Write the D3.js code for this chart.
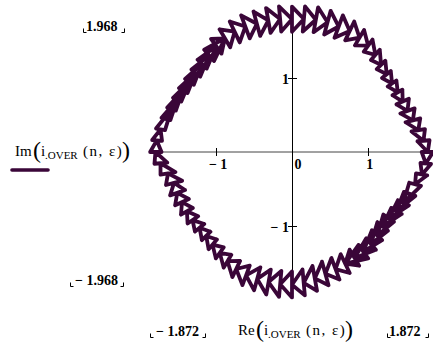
<!DOCTYPE html>
<html><head><meta charset="utf-8">
<script src="https://cdn.jsdelivr.net/npm/d3@7"></script>
<style>body{margin:0;background:#fff}svg{display:block}</style>
</head><body><svg id="c" width="433" height="345"></svg>
<script>
// axis limits and ticks
const xDomain = [-1.872, 1.872];
const yDomain = [-1.968, 1.968];
const xTicks = [-1, 0, 1];
const yTicks = [-1, 1];
// trace: [phase in degrees, magnitude] (two passes round the curve)
const lapA = [
[90,1.96],[90,1.62],[85,1.80],[85,1.97],[85,1.63],[80,1.81],[80,1.98],[80,1.64],[75,1.81],
[75,1.97],[75,1.64],[70,1.80],[70,1.96],[70,1.64],[65,1.80],[65,1.94],[65,1.66],[60,1.78],
[60,1.90],[60,1.66],[55,1.75],[55,1.85],[55,1.65],[50,1.71],[50,1.80],[50,1.62],[45,1.66],
[45,1.74],[45,1.58],[40,1.63],[40,1.70],[40,1.55],[35,1.61],[35,1.68],[35,1.54],[30,1.61],
[30,1.68],[30,1.53],[25,1.61],[25,1.70],[25,1.52],[20,1.62],[20,1.72],[20,1.52],[15,1.65],
[15,1.75],[15,1.55],[10,1.69],[10,1.78],[10,1.60],[5,1.74],[5,1.82],[5,1.66],[0,1.79],
[0,1.86],[0,1.71],[-5,1.77],[-5,1.84],[-5,1.70],[-10,1.74],[-10,1.81],[-10,1.66],[-15,1.68],
[-15,1.76],[-15,1.60],[-25,1.62],[-20,1.73],[-20,1.57],[-30,1.59],[-25,1.70],[-25,1.54],[-35,1.56],
[-30,1.67],[-30,1.51],[-40,1.56],[-35,1.64],[-35,1.47],[-45,1.59],[-40,1.65],[-40,1.47],[-50,1.62],
[-45,1.68],[-45,1.49],[-55,1.64],[-50,1.72],[-50,1.52],[-60,1.65],[-55,1.75],[-55,1.53],[-65,1.66],
[-60,1.77],[-60,1.52],[-65,1.66],[-65,1.80],[-65,1.52],[-70,1.68],[-70,1.83],[-70,1.52],[-75,1.70],
[-75,1.86],[-75,1.53],[-80,1.73],[-80,1.90],[-80,1.56],[-85,1.77],[-85,1.94],[-85,1.59],[-90,1.79],
[-90,1.96],[-90,1.61],[-95,1.79],[-95,1.96],[-95,1.61],[-100,1.78],[-100,1.95],[-100,1.61],[-105,1.77],
[-105,1.93],[-105,1.61],[-110,1.77],[-110,1.91],[-110,1.63],[-115,1.74],[-115,1.86],[-115,1.62],[-120,1.70],
[-120,1.80],[-120,1.60],[-125,1.66],[-125,1.75],[-125,1.57],[-130,1.63],[-130,1.71],[-130,1.54],[-135,1.60],
[-135,1.68],[-135,1.52],[-140,1.59],[-140,1.67],[-140,1.51],[-145,1.60],[-145,1.68],[-145,1.51],[-150,1.60],
[-150,1.69],[-150,1.51],[-155,1.60],[-155,1.70],[-155,1.50],[-160,1.61],[-160,1.71],[-160,1.50],[-165,1.61],
[-165,1.72],[-165,1.50],[-170,1.66],[-170,1.76],[-170,1.56],[-175,1.74],[-175,1.82],[-175,1.65],[-180,1.80],
[-180,1.87],[-180,1.72],[-185,1.79],[-185,1.85],[-185,1.72],[-190,1.76],[-190,1.82],[-190,1.70],[-200,1.69],
[-195,1.78],[-195,1.66],[-205,1.67],[-200,1.75],[-200,1.63],[-210,1.66],[-205,1.73],[-205,1.61],[-215,1.65],
[-210,1.72],[-210,1.59],[-220,1.66],[-215,1.72],[-215,1.58],[-225,1.68],[-220,1.73],[-220,1.58],[-230,1.70],
[-225,1.76],[-225,1.59],[-235,1.74],[-230,1.80],[-230,1.60],[-240,1.77],[-235,1.86],[-235,1.62],[-240,1.77],
[-240,1.91],[-240,1.63],[-245,1.79],[-245,1.94],[-245,1.63],[-250,1.80],[-250,1.96],[-250,1.63],[-255,1.79],
[-255,1.96],[-255,1.62],[-260,1.80],[-260,1.97],[-260,1.63],[-265,1.80],[-265,1.97],[-265,1.63],[-270,1.79],
[-270,1.96]
];
const lapB = [
[90,1.62],[90,1.96],[85,1.80],[85,1.63],[85,1.97],[80,1.81],[80,1.64],[80,1.98],[75,1.81],
[75,1.64],[75,1.97],[70,1.80],[70,1.64],[70,1.96],[65,1.80],[65,1.66],[65,1.94],[60,1.78],
[60,1.66],[60,1.90],[55,1.75],[55,1.65],[55,1.85],[50,1.71],[50,1.62],[50,1.80],[45,1.66],
[45,1.58],[45,1.74],[40,1.63],[40,1.55],[40,1.70],[35,1.61],[35,1.54],[35,1.68],[30,1.61],
[30,1.53],[30,1.68],[25,1.61],[25,1.52],[25,1.70],[20,1.62],[20,1.52],[20,1.72],[15,1.65],
[15,1.55],[15,1.75],[10,1.69],[10,1.60],[10,1.78],[5,1.74],[5,1.66],[5,1.82],[0,1.79],
[0,1.71],[0,1.86],[-5,1.77],[-5,1.70],[-5,1.84],[-10,1.74],[-10,1.66],[-10,1.81],[-15,1.68],
[-15,1.60],[-15,1.76],[-25,1.62],[-20,1.57],[-20,1.73],[-30,1.59],[-25,1.54],[-25,1.70],[-35,1.56],
[-30,1.51],[-30,1.67],[-40,1.56],[-35,1.47],[-35,1.64],[-45,1.59],[-40,1.47],[-40,1.65],[-50,1.62],
[-45,1.49],[-45,1.68],[-55,1.64],[-50,1.52],[-50,1.72],[-60,1.65],[-55,1.53],[-55,1.75],[-65,1.66],
[-60,1.52],[-60,1.77],[-65,1.66],[-65,1.52],[-65,1.80],[-70,1.68],[-70,1.52],[-70,1.83],[-75,1.70],
[-75,1.53],[-75,1.86],[-80,1.73],[-80,1.56],[-80,1.90],[-85,1.77],[-85,1.59],[-85,1.94],[-90,1.79],
[-90,1.61],[-90,1.96],[-95,1.79],[-95,1.61],[-95,1.96],[-100,1.78],[-100,1.61],[-100,1.95],[-105,1.77],
[-105,1.61],[-105,1.93],[-110,1.77],[-110,1.63],[-110,1.91],[-115,1.74],[-115,1.62],[-115,1.86],[-120,1.70],
[-120,1.60],[-120,1.80],[-125,1.66],[-125,1.57],[-125,1.75],[-130,1.63],[-130,1.54],[-130,1.71],[-135,1.60],
[-135,1.52],[-135,1.68],[-140,1.59],[-140,1.51],[-140,1.67],[-145,1.60],[-145,1.51],[-145,1.68],[-150,1.60],
[-150,1.51],[-150,1.69],[-155,1.60],[-155,1.50],[-155,1.70],[-160,1.61],[-160,1.50],[-160,1.71],[-165,1.61],
[-165,1.50],[-165,1.72],[-170,1.66],[-170,1.56],[-170,1.76],[-175,1.74],[-175,1.65],[-175,1.82],[-180,1.80],
[-180,1.72],[-180,1.87],[-185,1.79],[-185,1.72],[-185,1.85],[-190,1.76],[-190,1.70],[-190,1.82],[-200,1.69],
[-195,1.66],[-195,1.78],[-205,1.67],[-200,1.63],[-200,1.75],[-210,1.66],[-205,1.61],[-205,1.73],[-215,1.65],
[-210,1.59],[-210,1.72],[-220,1.66],[-215,1.58],[-215,1.72],[-225,1.68],[-220,1.58],[-220,1.73],[-230,1.70],
[-225,1.59],[-225,1.76],[-235,1.74],[-230,1.60],[-230,1.80],[-240,1.77],[-235,1.62],[-235,1.86],[-240,1.77],
[-240,1.63],[-240,1.91],[-245,1.79],[-245,1.63],[-245,1.94],[-250,1.80],[-250,1.63],[-250,1.96],[-255,1.79],
[-255,1.62],[-255,1.96],[-260,1.80],[-260,1.63],[-260,1.97],[-265,1.80],[-265,1.63],[-265,1.97],[-270,1.79],
[-270,1.62]
];
const traceColor = "#3a0638";

const svg = d3.select("#c");
const serif = "'Liberation Serif','Times New Roman',serif";
const x = d3.scaleLinear().domain(xDomain).range([150, 434]);
const y = d3.scaleLinear().domain(yDomain).range([298, 6]);
const fmt = v => v < 0 ? "\u2212 " + Math.abs(v) : String(v);

// axes through origin
svg.append("line").attr("x1", x(xDomain[0])).attr("x2", x(xDomain[1]))
  .attr("y1", Math.round(y(0))).attr("y2", Math.round(y(0)))
  .attr("stroke", "#444").attr("stroke-width", 1);
const x0 = Math.round(x(0)) + 0.5;
svg.append("line").attr("x1", x0).attr("x2", x0)
  .attr("y1", y(yDomain[1])).attr("y2", y(yDomain[0]))
  .attr("stroke", "#000").attr("stroke-width", 1);

xTicks.filter(t => t !== 0).forEach(t => {
  const px = Math.round(x(t)) + 0.5;
  svg.append("line").attr("x1", px).attr("x2", px).attr("y1", y(0) - 4).attr("y2", y(0) + 4)
    .attr("stroke", "#000");
});
yTicks.forEach(t => {
  const py = Math.round(y(t)) + 0.5;
  svg.append("line").attr("x1", x(0) - 4).attr("x2", x(0) + 5).attr("y1", py).attr("y2", py)
    .attr("stroke", "#000");
});
xTicks.forEach(t => {
  svg.append("text").attr("x", t === 0 ? x(t) + 6 : x(t) + 2).attr("y", y(0) + 17)
    .attr("text-anchor", "middle").attr("font-family", serif).attr("font-weight", "bold")
    .attr("font-size", 14).text(fmt(t));
});
yTicks.forEach(t => {
  svg.append("text").attr("x", x(0) - 3).attr("y", y(t) + 6)
    .attr("text-anchor", "end").attr("font-family", serif).attr("font-weight", "bold")
    .attr("font-size", 14).text(fmt(t));
});

// trace
const line = d3.line()
  .x(d => x(d[1] * Math.cos(d[0] * Math.PI / 180)))
  .y(d => y(d[1] * Math.sin(d[0] * Math.PI / 180)));
svg.append("path").datum(lapA.concat(lapB)).attr("d", line)
  .attr("fill", "none").attr("stroke", traceColor).attr("stroke-width", 3.8)
  .attr("stroke-linejoin", "round").attr("stroke-linecap", "round");

// limit labels with corner marks
function limitLabel(val, tx, ty, lx, rx) {
  svg.append("text").attr("x", tx).attr("y", ty).attr("font-family", serif)
    .attr("font-weight", "bold").attr("font-size", 14).text(fmt(val));
  const my = ty + 1.5;
  svg.append("path").attr("d", `M${lx + 0.5},${my - 4}V${my}H${lx + 3.5}`)
    .attr("fill", "none").attr("stroke", "#000").attr("stroke-width", 1);
  svg.append("path").attr("d", `M${rx + 0.5},${my - 4}V${my}H${rx - 2.5}`)
    .attr("fill", "none").attr("stroke", "#000").attr("stroke-width", 1);
}
limitLabel(yDomain[1], 86, 31, 83, 124);
limitLabel(yDomain[0], 75, 285, 70, 123);
limitLabel(xDomain[0], 156, 336, 150, 205);
limitLabel(xDomain[1], 389, 336, 387, 428);

// axis titles
function title(fn, sx, base) {
  const g = svg.append("g").attr("font-family", serif).attr("fill", "#000");
  g.append("text").attr("x", sx).attr("y", base).attr("font-size", 15).text(fn);
  g.append("text").attr("x", sx + 18).attr("y", base + 2).attr("font-size", 24).text("(");
  g.append("text").attr("x", sx + 26).attr("y", base).attr("font-size", 15).text("i");
  g.append("text").attr("x", sx + 30).attr("y", base + 3).attr("font-size", 11).text(".OVER");
  g.append("text").attr("x", sx + 68).attr("y", base).attr("font-size", 15)
    .attr("letter-spacing", 1.5).text("(n, \u03b5)");
  g.append("text").attr("x", sx + 107).attr("y", base + 2).attr("font-size", 24).text(")");
}
title("Re", 238, 335);
title("Im", 15, 156);
svg.append("line").attr("x1", 12).attr("x2", 48).attr("y1", 170).attr("y2", 170)
  .attr("stroke", traceColor).attr("stroke-width", 3.6).attr("stroke-linecap", "round");
</script></body></html>
